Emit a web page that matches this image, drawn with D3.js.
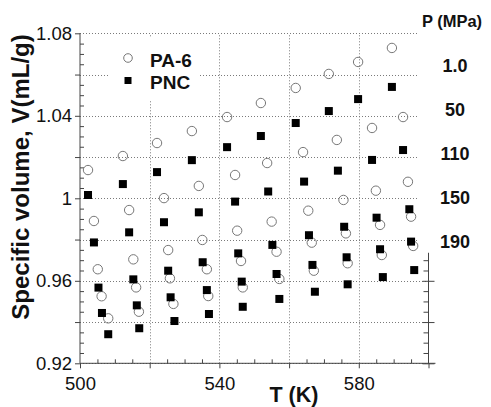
<!DOCTYPE html>
<html>
<head>
<meta charset="utf-8">
<script src="https://cdn.jsdelivr.net/npm/d3@7"></script>
<style>
  html, body { margin: 0; padding: 0; background: #fff; }
  svg { display: block; }
  text { font-family: "Liberation Sans", Arial, Helvetica, sans-serif; }
</style>
</head>
<body>
<svg id="chart" width="491" height="407"></svg>
<script>
// ---- data ----
const pressures = ["1.0", "50", "110", "150", "190"];
const seriesNames = ["PA-6", "PNC"];

const pa6Temp = [
  [502.3, 512.3, 522.1, 532.1, 542.2, 551.9, 561.9, 571.4, 579.8, 589.5],
  [504.0, 514.1, 524.1, 534.1, 544.5, 553.7, 564.0, 573.7, 583.8, 592.7],
  [505.1, 515.3, 525.3, 535.1, 545.1, 555.0, 565.5, 575.6, 584.9, 594.1],
  [506.2, 516.1, 525.8, 536.4, 546.2, 556.4, 566.5, 576.3, 586.1, 595.0],
  [508.1, 516.9, 526.8, 536.8, 546.7, 557.2, 567.1, 576.8, 586.6, 595.6]
];
const pa6Vol = [
  [1.0137, 1.0205, 1.0268, 1.0326, 1.0394, 1.0462, 1.0535, 1.0603, 1.0661, 1.0729],
  [0.9890, 0.9943, 1.0001, 1.0060, 1.0113, 1.0171, 1.0224, 1.0283, 1.0341, 1.0394],
  [0.9656, 0.9704, 0.9749, 0.9798, 0.9843, 0.9887, 0.9940, 0.9992, 1.0037, 1.0080],
  [0.9525, 0.9568, 0.9612, 0.9656, 0.9696, 0.9741, 0.9785, 0.9830, 0.9871, 0.9911],
  [0.9418, 0.9450, 0.9488, 0.9526, 0.9568, 0.9609, 0.9649, 0.9685, 0.9725, 0.9769]
];
const pncTemp = [
  [502.3, 512.3, 522.1, 532.1, 542.2, 551.9, 561.9, 571.4, 579.8, 589.5],
  [504.0, 514.1, 524.1, 534.1, 544.5, 554.0, 564.3, 574.0, 583.8, 592.7],
  [505.3, 515.3, 525.3, 535.2, 545.4, 555.2, 565.7, 575.8, 585.1, 594.5],
  [506.3, 516.3, 526.0, 536.4, 546.4, 556.4, 566.7, 576.5, 586.1, 595.0],
  [508.1, 517.0, 527.1, 537.0, 546.7, 557.2, 567.4, 576.8, 586.9, 595.9]
];
const pncVol = [
  [1.0016, 1.0069, 1.0127, 1.0185, 1.0248, 1.0302, 1.0365, 1.0423, 1.0481, 1.0540],
  [0.9786, 0.9835, 0.9884, 0.9932, 0.9984, 1.0033, 1.0081, 1.0134, 1.0186, 1.0234],
  [0.9567, 0.9607, 0.9649, 0.9690, 0.9733, 0.9774, 0.9821, 0.9862, 0.9906, 0.9947],
  [0.9444, 0.9481, 0.9520, 0.9555, 0.9596, 0.9633, 0.9677, 0.9714, 0.9753, 0.9790],
  [0.9341, 0.9370, 0.9405, 0.9439, 0.9474, 0.9512, 0.9547, 0.9583, 0.9618, 0.9652]
];

const xMajorTicks = [500, 520, 540, 560, 580, 600];
const xLabelTicks = [500, 540, 580];
const yMajorTicks = [0.92, 0.94, 0.96, 0.98, 1.00, 1.02, 1.04, 1.06, 1.08];
const yLabelTicks = [0.92, 0.96, 1.00, 1.04, 1.08];

// ---- layout ----
const svg = d3.select("#chart");
const x = d3.scaleLinear().domain([500, 600]).range([80, 428.5]);
const y = d3.scaleLinear().domain([0.92, 1.08]).range([363.3, 33.3]);
const gridColor = "#7a7a7a";
const axisColor = "#444";

const xMinor = d3.range(505, 600, 5).filter(v => !xMajorTicks.includes(v));
const yMinor = d3.range(0, 33).map(i => +(0.92 + i * 0.005).toFixed(3))
  .filter(v => !yMajorTicks.some(m => Math.abs(m - v) < 1e-9));

// grid lines
const grid = svg.append("g").attr("stroke", gridColor).attr("stroke-width", 1)
  .attr("stroke-dasharray", "1,2");
grid.selectAll("line.h").data(yMajorTicks).join("line")
  .attr("x1", x(500)).attr("x2", x(600))
  .attr("y1", d => Math.round(y(d)) + 0.5).attr("y2", d => Math.round(y(d)) + 0.5);
grid.selectAll("line.v").data(xMajorTicks.filter(v => v > 500 && v < 600)).join("line")
  .attr("y1", y(0.92)).attr("y2", y(1.08))
  .attr("x1", d => Math.round(x(d)) + 0.5).attr("x2", d => Math.round(x(d)) + 0.5);

// bottom axis
const fmtX = d => xLabelTicks.includes(d) ? String(d) : "";
const bottom = svg.append("g").attr("transform", `translate(0,${y(0.92)})`);
bottom.call(d3.axisBottom(x).tickValues(xMajorTicks).tickFormat(fmtX)
  .tickSize(5).tickPadding(8.5));
bottom.append("g").call(d3.axisBottom(x).tickValues(xMinor).tickFormat("").tickSize(-4));
bottom.append("line").attr("x1", x(500)).attr("x2", x(602)).attr("y1", 0).attr("y2", 0);
bottom.selectAll(".domain").remove();

// left axis
const fmtY = d => yLabelTicks.some(m => Math.abs(m - d) < 1e-9) ? String(+d.toFixed(2)) : "";
const left = svg.append("g").attr("transform", `translate(${x(500)},0)`);
left.call(d3.axisLeft(y).tickValues(yMajorTicks).tickFormat(fmtY).tickSize(5).tickPadding(3));
left.append("g").call(d3.axisLeft(y).tickValues(yMinor).tickFormat("").tickSize(-4));
left.selectAll(".domain").remove();
left.append("line").attr("x1", 0).attr("x2", 0).attr("y1", y(0.92)).attr("y2", y(1.08));

// right axis (partly hidden by the label panel)
const right = svg.append("g").attr("transform", `translate(${x(600)},0)`);
right.call(d3.axisRight(y).tickValues(yMajorTicks).tickFormat("").tickSize(6));
right.append("g").call(d3.axisLeft(y).tickValues(yMajorTicks).tickFormat("").tickSize(6));
right.append("g").call(d3.axisLeft(y).tickValues(yMinor).tickFormat("").tickSize(5));
right.selectAll(".domain").remove();
right.append("line").attr("x1", 0).attr("x2", 0).attr("y1", y(0.92)).attr("y2", y(1.08));

svg.selectAll(".tick line").attr("stroke", axisColor);
svg.selectAll("g > line").filter(function() { return !this.closest(".tick") && this.parentNode !== grid.node(); })
  .attr("stroke", axisColor).attr("stroke-width", 1);
svg.selectAll(".tick text").attr("font-size", 18.5).attr("fill", "#111")
  .attr("font-family", "'Liberation Sans', Arial, sans-serif");

// white panel on the right holding the pressure labels
svg.append("rect").attr("x", 419).attr("y", 0).attr("width", 72).attr("height", y(0.9736))
  .attr("fill", "#fff");

// legend panel
svg.append("rect").attr("x", 108).attr("y", 38).attr("width", 90).attr("height", 62)
  .attr("fill", "#fff");

// points: circles (PA-6) first, then squares (PNC)
const pa6Pts = pa6Temp.flatMap((row, i) => row.map((t, j) => ({ t, v: pa6Vol[i][j] })));
const pncPts = pncTemp.flatMap((row, i) => row.map((t, j) => ({ t, v: pncVol[i][j] })));

svg.append("g").selectAll("circle").data(pa6Pts).join("circle")
  .attr("cx", d => x(d.t)).attr("cy", d => y(d.v)).attr("r", 4.7)
  .attr("fill", "none").attr("stroke", "#777").attr("stroke-width", 1);

const sq = 8;
svg.append("g").selectAll("rect").data(pncPts).join("rect")
  .attr("x", d => x(d.t) - sq / 2).attr("y", d => y(d.v) - sq / 2)
  .attr("width", sq).attr("height", sq).attr("fill", "#000");

// legend
const lg = svg.append("g").attr("transform", "translate(128,0)");
lg.append("circle").attr("cx", 0).attr("cy", 58).attr("r", 4.3)
  .attr("fill", "none").attr("stroke", "#777").attr("stroke-width", 1);
lg.append("rect").attr("x", -3.5).attr("y", 77).attr("width", 7).attr("height", 7).attr("fill", "#000");
lg.selectAll("text").data(seriesNames).join("text")
  .attr("x", 22).attr("y", (d, i) => 66.5 + i * 22)
  .attr("font-size", 19).attr("font-weight", "bold").attr("fill", "#111")
  .text(d => d);

// pressure labels
svg.append("text").attr("x", 452).attr("y", 27).attr("text-anchor", "middle")
  .attr("font-size", 16.5).attr("font-weight", "bold").attr("fill", "#111").text("P (MPa)");
svg.append("g").selectAll("text").data(pressures).join("text")
  .attr("x", 455).attr("y", (d, i) => 71.7 + i * 44)
  .attr("text-anchor", "middle").attr("font-size", 18).attr("font-weight", "bold")
  .attr("fill", "#111").text(d => d);

// axis titles
svg.append("text").attr("transform", "translate(29,177) rotate(-90)")
  .attr("text-anchor", "middle").attr("font-size", 24).attr("font-weight", "bold")
  .attr("fill", "#111").text("Specific volume, V(mL/g)");
svg.append("text").attr("x", 294).attr("y", 402).attr("text-anchor", "middle")
  .attr("font-size", 21.5).attr("font-weight", "bold").attr("fill", "#111").text("T (K)");
</script>
</body>
</html>
